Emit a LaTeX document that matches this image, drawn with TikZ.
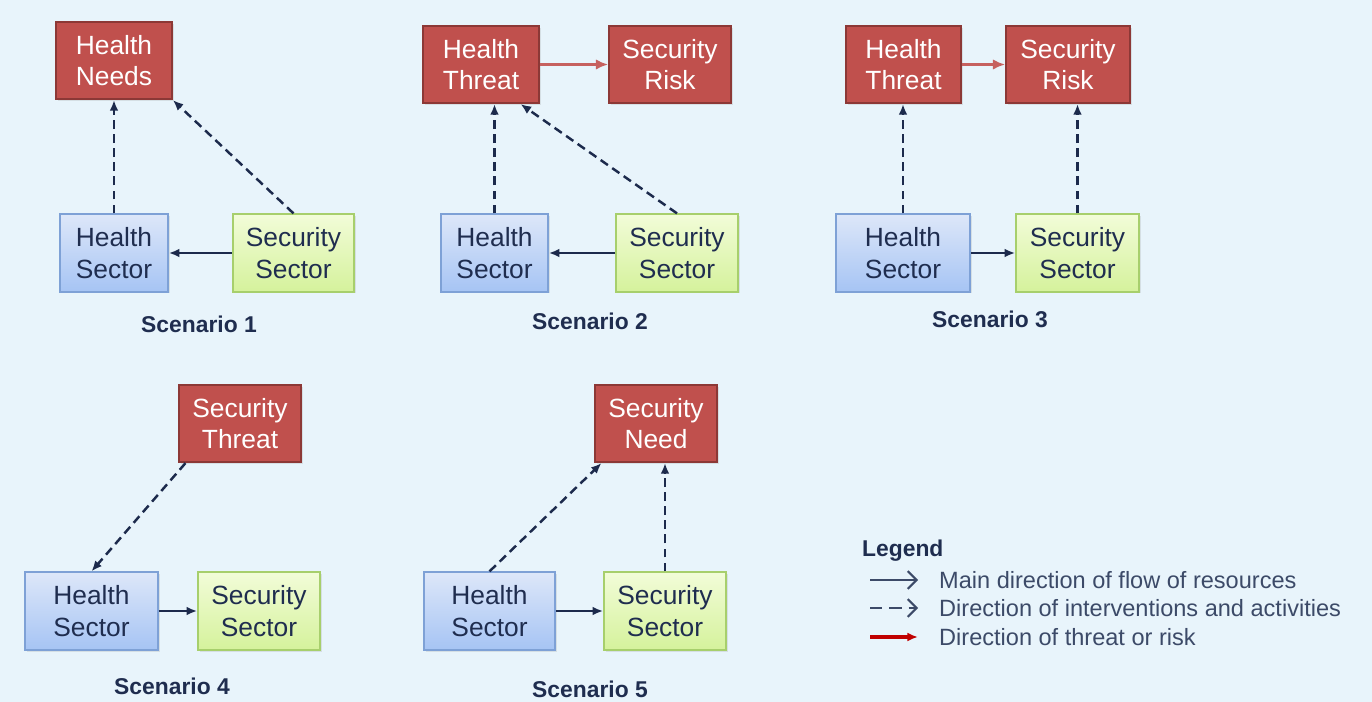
\documentclass[tikz,border=0pt]{standalone}
\usepackage{fontspec}
\setmainfont{Liberation Sans}
\usetikzlibrary{arrows.meta,shadows}
\definecolor{bgblue}{HTML}{E8F4FB}
\definecolor{redfill}{HTML}{C0504D}
\definecolor{redline}{HTML}{8C3836}
\definecolor{bluetop}{HTML}{DDE7F9}
\definecolor{bluebot}{HTML}{A6C4F4}
\definecolor{blueline}{HTML}{7EA1D6}
\definecolor{greentop}{HTML}{F2FCD8}
\definecolor{greenbot}{HTML}{D5F29C}
\definecolor{greenline}{HTML}{A7CF6C}
\definecolor{textnavy}{HTML}{1F2D4F}
\definecolor{arrownavy}{HTML}{1C2A4C}
\definecolor{legendgray}{HTML}{3C4A68}
\definecolor{riskred}{HTML}{C00000}

\begin{document}
\begin{tikzpicture}[x=0.02cm,y=-0.02cm,
    box/.style={draw,line width=1pt,minimum height=1.55cm,align=center,
      font=\fontsize{15}{18}\selectfont,
      drop shadow={opacity=0.18,shadow xshift=1pt,shadow yshift=-1pt}},
    redbox/.style={box,draw=redline,fill=redfill,text=white},
    healthbox/.style={box,draw=blueline,top color=bluetop,bottom color=bluebot,text=textnavy},
    secbox/.style={box,draw=greenline,top color=greentop,bottom color=greenbot,text=textnavy},
    flow/.style={-{Latex[length=6pt,width=5pt]},line width=1.4pt,draw=arrownavy},
    act/.style={flow,dash pattern=on 5pt off 3pt},
    risk/.style={-{Latex[length=7pt,width=6pt]},line width=1.8pt,draw=redfill!90!white},
    title/.style={anchor=base,font=\fontsize{13}{15}\selectfont\bfseries,text=textnavy},
    legtext/.style={anchor=west,font=\fontsize{13.4}{15}\selectfont,text=legendgray}]

\fill[bgblue] (0,0) rectangle (1372,702);
\useasboundingbox (0,0) rectangle (1372,702);

% scenario 1
\node[redbox,minimum width=2.32cm] (hn1) at (114,60.5) {Health\\Needs};
\node[healthbox,minimum width=2.16cm] (hs1) at (114,253) {Health\\Sector};
\node[secbox,minimum width=2.42cm] (ss1) at (293.5,253) {Security\\Sector};
\node[title] (sc1) at (199,333) {Scenario 1};
\draw[act] (hs1.north) -- (hn1.south);
\draw[act] (ss1.north) -- (hn1.south east);
\draw[flow] (ss1.west) -- (hs1.east);

% scenario 2
\node[redbox,minimum width=2.32cm] (ht2) at (481,64.5) {Health\\Threat};
\node[redbox,minimum width=2.44cm] (sr2) at (670,64.5) {Security\\Risk};
\node[healthbox,minimum width=2.14cm] (hs2) at (494.5,253) {Health\\Sector};
\node[secbox,minimum width=2.44cm] (ss2) at (677,253) {Security\\Sector};
\node[title] (sc2) at (590,330) {Scenario 2};
\draw[risk] (ht2.east) -- (sr2.west);
\draw[act] (hs2.north) -- (hs2.north |- ht2.south);
\draw[act] (ss2.north) -- (ht2.-45);
\draw[flow] (ss2.west) -- (hs2.east);

% scenario 3
\node[redbox,minimum width=2.30cm] (ht3) at (903.5,64.5) {Health\\Threat};
\node[redbox,minimum width=2.48cm] (sr3) at (1068,64.5) {Security\\Risk};
\node[healthbox,minimum width=2.68cm] (hs3) at (903,253) {Health\\Sector};
\node[secbox,minimum width=2.46cm] (ss3) at (1077.5,253) {Security\\Sector};
\node[title] (sc3) at (990,328) {Scenario 3};
\draw[risk] (ht3.east) -- (sr3.west);
\draw[act] (hs3.north) -- (hs3.north |- ht3.south);
\draw[act] (ss3.north) -- (ss3.north |- sr3.south);
\draw[flow] (hs3.east) -- (ss3.west);

% scenario 4
\node[redbox,minimum width=2.44cm] (st4) at (240,423.5) {Security\\Threat};
\node[healthbox,minimum width=2.66cm] (hs4) at (91.5,611) {Health\\Sector};
\node[secbox,minimum width=2.44cm] (ss4) at (259,611) {Security\\Sector};
\node[title] (sc4) at (172,694) {Scenario 4};
\draw[act] (st4.-144) -- (hs4.north);
\draw[flow] (hs4.east) -- (ss4.west);

% scenario 5
\node[redbox,minimum width=2.44cm] (sn5) at (656,423.5) {Security\\Need};
\node[healthbox,minimum width=2.62cm] (hs5) at (489.5,611) {Health\\Sector};
\node[secbox,minimum width=2.44cm] (ss5) at (665,611) {Security\\Sector};
\node[title] (sc5) at (590,697) {Scenario 5};
\draw[act] (hs5.north) -- (sn5.-144);
\draw[act] (ss5.north) -- (ss5.north |- sn5.south);
\draw[flow] (hs5.east) -- (ss5.west);

% legend
\node[anchor=west,font=\fontsize{13}{15}\selectfont\bfseries,text=textnavy] (leg) at (856,551) {Legend};
\coordinate (l1a) at (870,580); \coordinate (l1b) at (918,580);
\coordinate (l2a) at (870,608); \coordinate (l2b) at (918,608);
\coordinate (l3a) at (870,637); \coordinate (l3b) at (918,637);
\draw[-{Straight Barb[length=5pt]},line width=1.2pt,draw=legendgray] (l1a) -- (l1b);
\draw[-{Straight Barb[length=5pt]},line width=1.2pt,draw=legendgray,dash pattern=on 7pt off 4pt] (l2a) -- (l2b);
\draw[-{Latex[length=6pt,width=5pt]},line width=1.8pt,draw=riskred] (l3a) -- (l3b);
\node[legtext] (lg1) at (933,580) {Main direction of flow of resources};
\node[legtext] (lg2) at (933,608) {Direction of interventions and activities};
\node[legtext] (lg3) at (933,637) {Direction of threat or risk};
\end{tikzpicture}
\end{document}
